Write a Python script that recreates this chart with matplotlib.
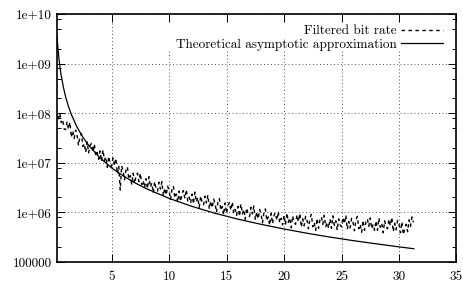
import numpy as np
import matplotlib
matplotlib.use("Agg")
import matplotlib.pyplot as plt
from matplotlib.ticker import FixedLocator, FixedFormatter, LogLocator, NullFormatter, NullLocator
from matplotlib.patches import Rectangle

# filtered bit rate, one sample every 0.125 from x=0.25 (log10 of the rate)
rate_x = np.linspace(0.25, 31.25, 249)
rate_log = [
    7.98, 7.86, 8.00, 7.81, 7.87, 7.68,
    7.67, 7.83, 7.68, 7.82, 7.51, 7.65, 7.49, 7.66,
    7.55, 7.35, 7.54, 7.59, 7.33, 7.39, 7.21, 7.42,
    7.20, 7.35, 7.39, 7.22, 7.38, 7.14, 7.21, 7.07,
    7.24, 7.03, 7.26, 7.05, 7.12, 6.91, 7.13, 6.99,
    6.93, 7.10, 6.94, 7.09, 6.78, 6.93, 6.45, 6.94,
    6.84, 6.66, 6.85, 6.92, 6.67, 6.74, 6.57, 6.79,
    6.58, 6.74, 6.79, 6.62, 6.79, 6.56, 6.64, 6.50,
    6.68, 6.48, 6.72, 6.51, 6.59, 6.39, 6.62, 6.48,
    6.43, 6.61, 6.47, 6.62, 6.33, 6.49, 6.35, 6.53,
    6.44, 6.26, 6.46, 6.53, 6.29, 6.37, 6.20, 6.43,
    6.22, 6.38, 6.44, 6.28, 6.46, 6.23, 6.31, 6.19,
    6.37, 6.17, 6.41, 6.21, 6.30, 6.10, 6.33, 6.20,
    6.15, 6.33, 6.19, 6.35, 6.07, 6.23, 6.09, 6.27,
    6.18, 6.00, 6.21, 6.28, 6.04, 6.12, 5.95, 6.19,
    5.98, 6.14, 6.20, 6.04, 6.21, 5.98, 6.06, 5.94,
    6.12, 5.92, 6.17, 5.97, 6.06, 5.86, 6.09, 5.97,
    5.92, 6.10, 5.97, 6.13, 5.85, 6.01, 5.87, 6.06,
    5.97, 5.79, 6.00, 6.07, 5.83, 5.91, 5.74, 5.98,
    5.77, 5.94, 5.99, 5.84, 6.02, 5.79, 5.88, 5.75,
    5.94, 5.75, 5.99, 5.80, 5.89, 5.69, 5.93, 5.80,
    5.76, 5.95, 5.81, 5.98, 5.70, 5.87, 5.73, 5.92,
    5.84, 5.67, 5.88, 5.96, 5.71, 5.80, 5.64, 5.88,
    5.68, 5.85, 5.91, 5.76, 5.94, 5.71, 5.80, 5.68,
    5.87, 5.68, 5.93, 5.74, 5.83, 5.64, 5.87, 5.75,
    5.71, 5.90, 5.77, 5.94, 5.66, 5.82, 5.69, 5.88,
    5.80, 5.63, 5.84, 5.92, 5.67, 5.76, 5.60, 5.84,
    5.64, 5.81, 5.87, 5.72, 5.89, 5.67, 5.76, 5.64,
    5.83, 5.64, 5.89, 5.70, 5.78, 5.59, 5.83, 5.71,
    5.67, 5.86, 5.73, 5.90, 5.61, 5.78, 5.65, 5.84,
    5.76, 5.59, 5.81, 5.55, 5.67, 5.76, 5.61, 5.85,
    5.72, 5.91, 5.80,
]

# theoretical asymptotic approximation
theory_x = [0.25, 0.3, 0.4, 0.5, 0.6, 0.8, 1.0, 1.25, 1.5, 2, 2.5, 3, 4, 5, 6, 7, 8,
            10, 12, 14, 16, 18, 20, 22, 24, 26, 28, 30, 31.3]
theory_y = [3.7e9, 2.54e9, 1.41e9, 8.9e8, 6.1e8, 3.4e8, 2.15e8, 1.36e8, 9.4e7, 5.2e7,
            3.3e7, 2.26e7, 1.25e7, 7.9e6, 5.46e6, 3.98e6, 3.03e6, 1.92e6, 1.32e6, 9.6e5,
            7.3e5, 5.75e5, 4.63e5, 3.8e5, 3.18e5, 2.7e5, 2.33e5, 2.02e5, 1.85e5]

xticks = [5, 10, 15, 20, 25, 30, 35]
yticks = [1e5, 1e6, 1e7, 1e8, 1e9, 1e10]
ylabels = ["100000", "1e+06", "1e+07", "1e+08", "1e+09", "1e+10"]

plt.rcParams['font.family'] = 'cmr10'
plt.rcParams['font.size'] = 9.5

fig = plt.figure(figsize=(4.64, 2.82), dpi=100)
ax = fig.add_axes([0.1228, 0.0709, 0.861, 0.8795])

rate_y = 10 ** np.array(rate_log)
ax.plot(rate_x, rate_y, color='black', lw=1.0, ls=(0, (2.5, 2.5)), label='Filtered bit rate')
ax.plot(theory_x, theory_y, color='black', lw=0.9, label='Theoretical asymptotic approximation')

ax.set_yscale('log')
ax.set_xlim(0.25, 35)
ax.set_ylim(1e5, 1e10)

ax.xaxis.set_major_locator(FixedLocator(xticks))
ax.xaxis.set_minor_locator(NullLocator())
ax.yaxis.set_major_locator(FixedLocator(yticks))
ax.yaxis.set_major_formatter(FixedFormatter(ylabels))
ax.yaxis.set_minor_locator(LogLocator(base=10, subs=[2, 5, 8]))
ax.yaxis.set_minor_formatter(NullFormatter())

ax.tick_params(which='both', direction='in', top=True, right=True, width=0.7)
ax.tick_params(which='major', length=6)
ax.tick_params(which='minor', length=3.2)
ax.tick_params(axis='x', pad=6.5)
ax.tick_params(axis='y', pad=3.6)
for s in ax.spines.values():
    s.set_linewidth(1.2)

ax.grid(True, which='major', color='0.25', lw=0.6, ls=(0, (1.2, 3)))

# white key area like gnuplot, hides the grid behind the legend
ax.add_patch(Rectangle((0.27, 0.855), 0.706, 0.11, transform=ax.transAxes,
                       facecolor='white', edgecolor='none', zorder=1.8))

ax.legend(loc='upper right', bbox_to_anchor=(0.966, 0.956), frameon=False,
          markerfirst=False, handlelength=3.2, handletextpad=0.3,
          labelspacing=0.1, borderpad=0, borderaxespad=0)

fig.savefig('out.png', dpi=100)
